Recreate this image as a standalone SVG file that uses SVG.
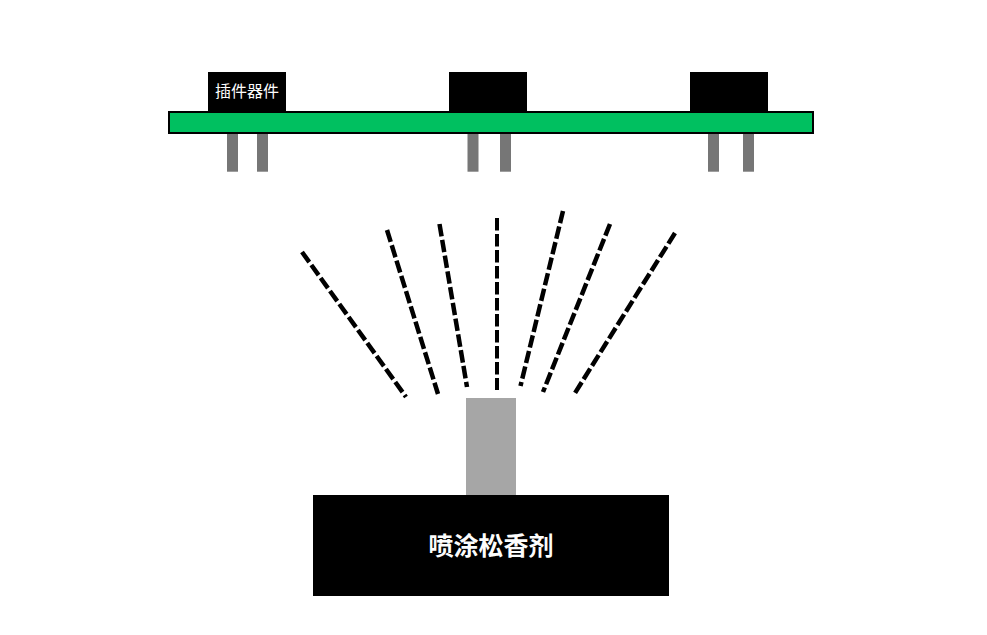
<svg xmlns="http://www.w3.org/2000/svg" width="987" height="635" viewBox="0 0 987 635">
<style>
.comp{fill:#000}
.pin{fill:#767676}
.spray{fill:none;stroke:#000;stroke-width:4.5;stroke-dasharray:12.5 3.5}
text{font-family:"Noto Sans CJK SC","Liberation Sans",sans-serif;fill:#fff;text-anchor:middle;opacity:.99}
</style>
<rect width="987" height="635" fill="#fff"/>
<g id="component-1"><rect class="comp" x="208" y="72" width="78" height="40"/><text x="247" y="97" font-size="16">插件器件</text></g>
<g id="component-2"><rect class="comp" x="449" y="72" width="78" height="40"/></g>
<g id="component-3"><rect class="comp" x="690" y="72" width="78" height="40"/></g>
<g id="pcb"><rect x="169" y="112" width="644" height="21" fill="#00c060" stroke="#000" stroke-width="2"/></g>
<g id="pins">
<rect class="pin" x="227" y="134" width="11" height="37.7"/><rect class="pin" x="257" y="134" width="11" height="37.7"/>
<rect class="pin" x="467.500" y="134" width="11" height="37.7"/><rect class="pin" x="500" y="134" width="11" height="37.7"/>
<rect class="pin" x="708" y="134" width="11" height="37.7"/><rect class="pin" x="743" y="134" width="11" height="37.7"/>
</g>
<g id="connectors">
<path class="spray" d="M302 252L406 397"/>
<path class="spray" d="M387 230L438 394"/>
<path class="spray" d="M439.500 224L467 387"/>
<path class="spray" d="M497 218V390" style="stroke-width:4"/>
<path class="spray" d="M563 211L520.500 386"/>
<path class="spray" d="M610 224L543 392"/>
<path class="spray" d="M675 233L575 393"/>
</g>
<g id="nozzle"><rect x="466" y="398" width="50" height="97" fill="#a6a6a6"/></g>
<g id="flux"><rect class="comp" x="313" y="495" width="356" height="101"/><text x="491" y="555" font-size="25" font-weight="700">喷涂松香剂</text></g>
</svg>
